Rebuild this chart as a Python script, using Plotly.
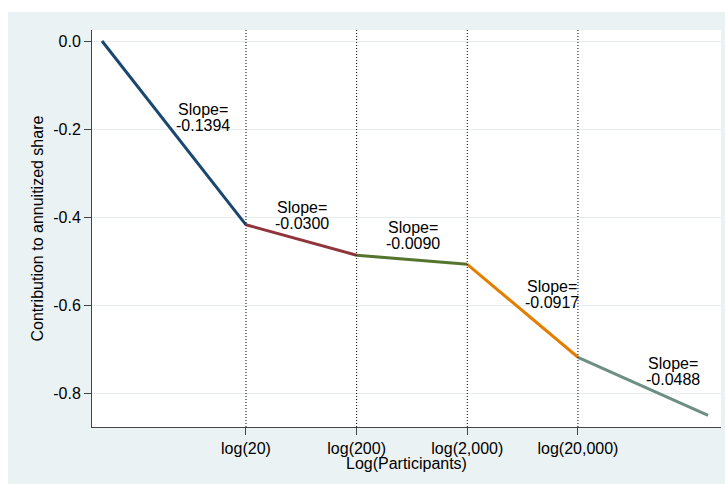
import numpy as np
import plotly.graph_objects as go

# Spline knots (number of participants) and estimated slope of each piece
participants = [1, 20, 200, 2000, 20000, 300000]
slopes = [-0.1394, -0.0300, -0.0090, -0.0917, -0.0488]
start_value = 0.0

tick_participants = [20, 200, 2000, 20000]
tick_labels = ["log(20)", "log(200)", "log(2,000)", "log(20,000)"]

seg_colors = ["#1a476f", "#90353b", "#55752f", "#e37e00", "#6e8e84"]

# Centre of each slope label, in data units
label_x = [2.10, 4.16, 6.47, 9.36, 11.88]
label_y = [-0.173, -0.396, -0.441, -0.577, -0.752]

x_knots = np.log(participants)
y_knots = [start_value]
for i, s in enumerate(slopes):
    y_knots.append(y_knots[-1] + s * (x_knots[i + 1] - x_knots[i]))

FONT = "Arial, Liberation Sans, sans-serif"
BG = "#EAF2F3"

fig = go.Figure()
for i in range(len(slopes)):
    fig.add_trace(go.Scatter(
        x=[x_knots[i], x_knots[i + 1]],
        y=[y_knots[i], y_knots[i + 1]],
        mode="lines",
        line=dict(color=seg_colors[i], width=3),
        showlegend=False,
        hoverinfo="skip",
    ))

shapes = [
    # graph region
    dict(type="rect", xref="paper", yref="paper", x0=-0.1335, x1=1.01,
         y0=-0.2, y1=1.0453, fillcolor=BG, line=dict(width=0), layer="below"),
    # plot region
    dict(type="rect", xref="paper", yref="paper", x0=0, x1=1, y0=0, y1=1,
         fillcolor="white", line=dict(width=0), layer="below"),
]
for p in tick_participants:
    shapes.append(dict(type="line", xref="x", yref="paper",
                       x0=np.log(p), x1=np.log(p), y0=0, y1=1,
                       line=dict(color="black", width=1, dash="1px,2px"),
                       layer="above"))

annotations = []
for i, s in enumerate(slopes):
    annotations.append(dict(x=label_x[i], y=label_y[i], text="Slope=",
                             showarrow=False, yshift=8, xanchor="center",
                             yanchor="middle",
                             font=dict(family=FONT, size=16, color="black")))
    annotations.append(dict(x=label_x[i], y=label_y[i], text=f"{s:.4f}",
                             showarrow=False, yshift=-8, xanchor="center",
                             yanchor="middle",
                             font=dict(family=FONT, size=16, color="black")))

annotations.append(dict(xref="paper", yref="paper", x=0.5, y=-0.093,
                        text="Log(Participants)", showarrow=False,
                        xanchor="center", yanchor="middle",
                        font=dict(family=FONT, size=16, color="black")))
annotations.append(dict(xref="paper", yref="paper", x=-0.0874, y=0.5,
                        text="Contribution to annuitized share", textangle=-90,
                        showarrow=False, xanchor="center", yanchor="middle",
                        font=dict(family=FONT, size=16, color="black")))

fig.update_layout(
    width=725, height=484,
    margin=dict(l=92, r=4, t=30, b=57),
    paper_bgcolor="white",
    plot_bgcolor="white",
    font=dict(family=FONT, size=16, color="black"),
    shapes=shapes,
    annotations=annotations,
    xaxis=dict(
        range=[-0.208, 12.88],
        tickvals=np.log(tick_participants),
        ticktext=tick_labels,
        ticks="outside", ticklen=7, tickcolor="#444", tickwidth=1,
        showline=True, linecolor="#444", linewidth=1,
        showgrid=False, zeroline=False,
        tickfont=dict(family=FONT, size=16, color="black"),
    ),
    yaxis=dict(
        range=[-0.877, 0.025],
        tickvals=[0.0, -0.2, -0.4, -0.6, -0.8],
        ticktext=["0.0", "-0.2", "-0.4", "-0.6", "-0.8"],
        ticks="outside", ticklen=7, tickcolor="#444", tickwidth=1,
        showline=True, linecolor="#444", linewidth=1,
        showgrid=True, gridcolor="#E4EEF0", gridwidth=1,
        zeroline=False,
        tickfont=dict(family=FONT, size=16, color="black"),
    ),
)

fig.write_html("out.html")
